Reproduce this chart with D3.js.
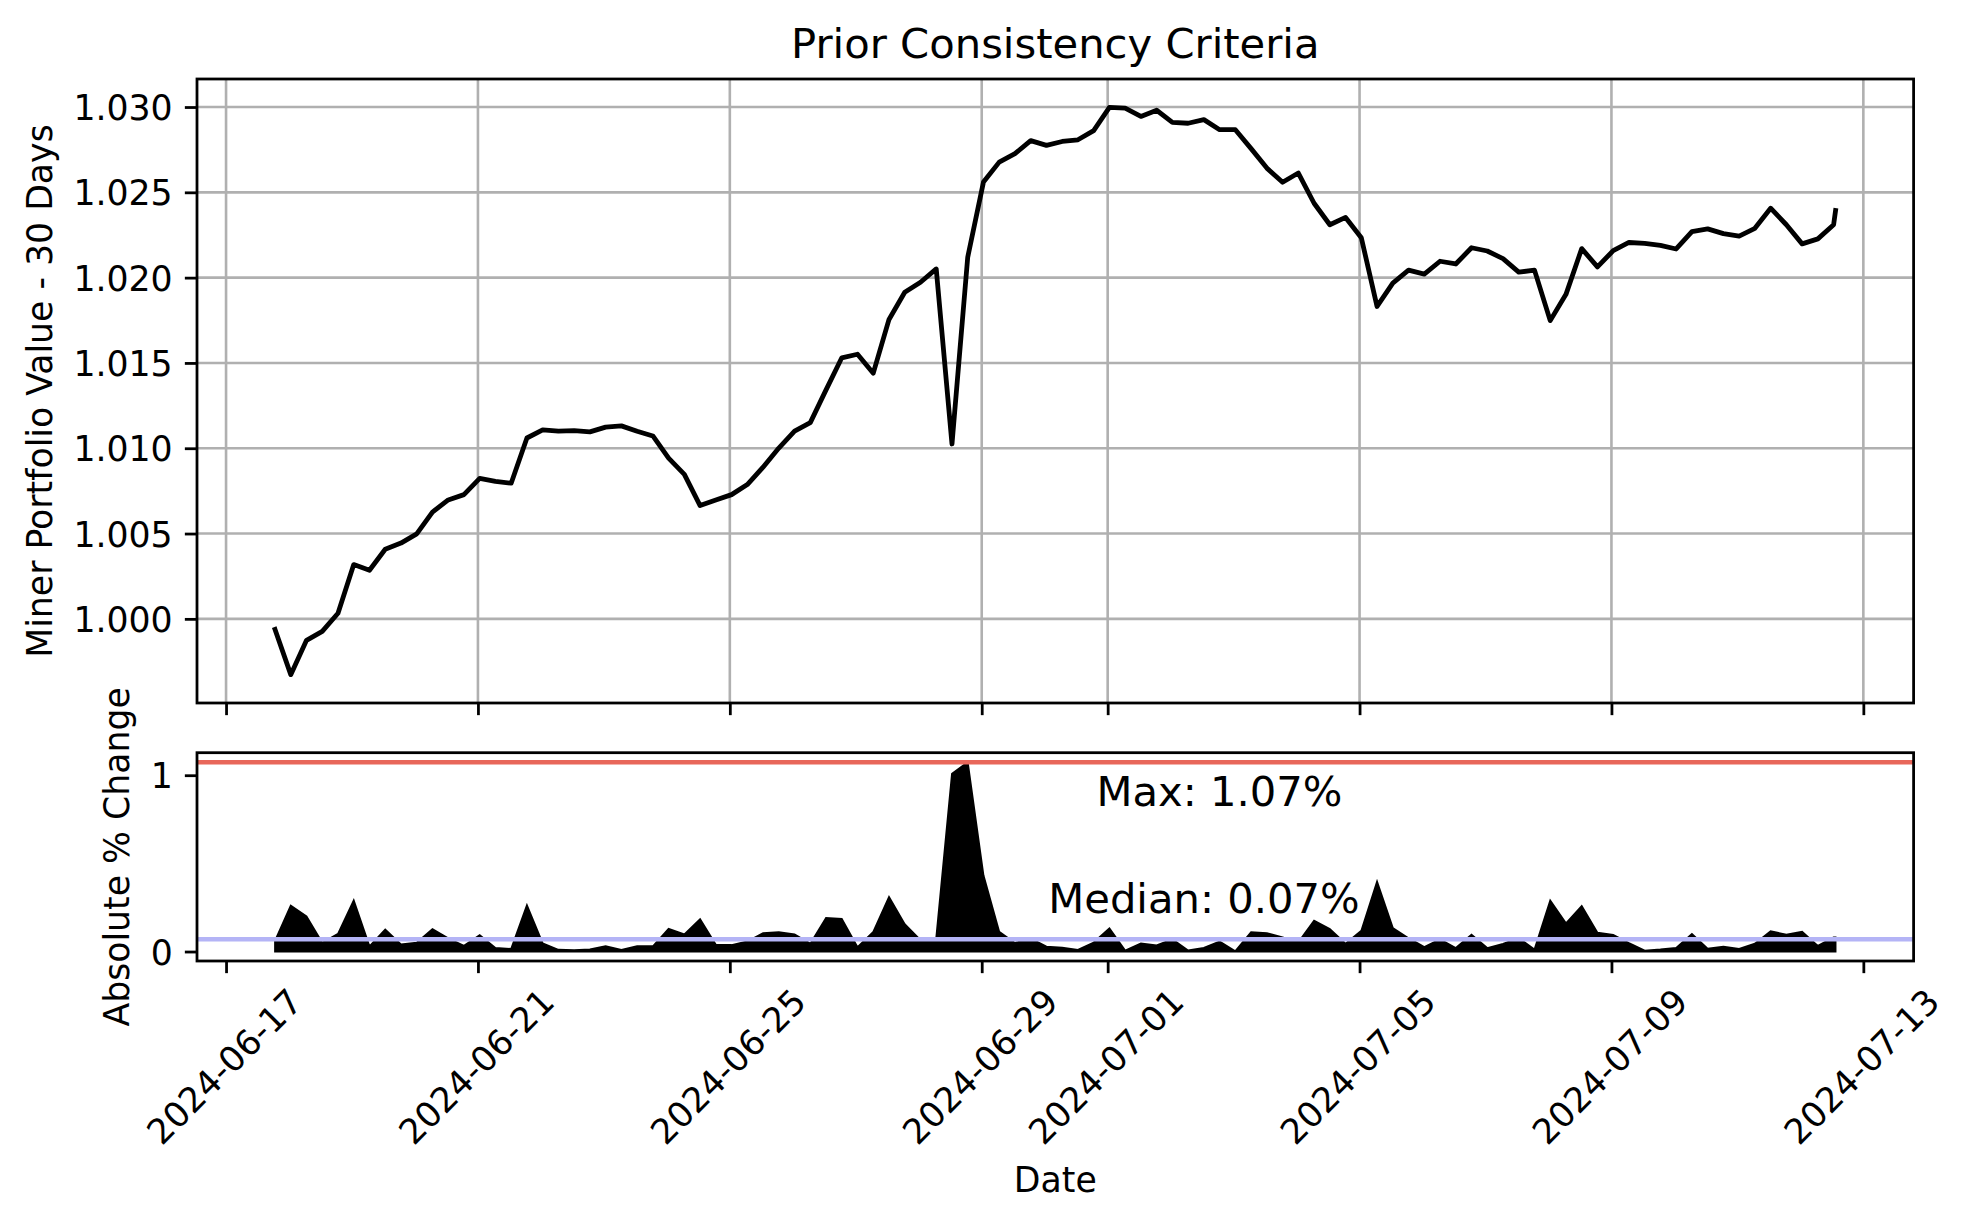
<!DOCTYPE html>
<html>
<head>
<meta charset="utf-8">
<script src="https://cdn.jsdelivr.net/npm/d3@7"></script>
<style>
  html, body { margin: 0; padding: 0; background: #ffffff; }
  svg { display: block; font-family: "DejaVu Sans", sans-serif; }
</style>
</head>
<body>
<svg id="chart" width="1970" height="1225"></svg>
<script>
// ---------------- DATA ----------------
const timestamps = [
  "2024-06-17 18:40",
  "2024-06-18 00:40","2024-06-18 06:40","2024-06-18 12:40","2024-06-18 18:40",
  "2024-06-19 00:40","2024-06-19 06:40","2024-06-19 12:40","2024-06-19 18:40",
  "2024-06-20 00:40","2024-06-20 06:40","2024-06-20 12:40","2024-06-20 18:40",
  "2024-06-21 00:40","2024-06-21 06:40","2024-06-21 12:40","2024-06-21 18:40",
  "2024-06-22 00:40","2024-06-22 06:40","2024-06-22 12:40","2024-06-22 18:40",
  "2024-06-23 00:40","2024-06-23 06:40","2024-06-23 12:40","2024-06-23 18:40",
  "2024-06-24 00:40","2024-06-24 06:40","2024-06-24 12:40","2024-06-24 18:40",
  "2024-06-25 00:40","2024-06-25 06:40","2024-06-25 12:40","2024-06-25 18:40",
  "2024-06-26 00:40","2024-06-26 06:40","2024-06-26 12:40","2024-06-26 18:40",
  "2024-06-27 00:40","2024-06-27 06:40","2024-06-27 12:40","2024-06-27 18:40",
  "2024-06-28 00:40","2024-06-28 06:40","2024-06-28 12:40","2024-06-28 18:40",
  "2024-06-29 00:40","2024-06-29 06:40","2024-06-29 12:40","2024-06-29 18:40",
  "2024-06-30 00:40","2024-06-30 06:40","2024-06-30 12:40","2024-06-30 18:40",
  "2024-07-01 00:40","2024-07-01 06:40","2024-07-01 12:40","2024-07-01 18:40",
  "2024-07-02 00:40","2024-07-02 06:40","2024-07-02 12:40","2024-07-02 18:40",
  "2024-07-03 00:40","2024-07-03 06:40","2024-07-03 12:40","2024-07-03 18:40",
  "2024-07-04 00:40","2024-07-04 06:40","2024-07-04 12:40","2024-07-04 18:40",
  "2024-07-05 00:40","2024-07-05 06:40","2024-07-05 12:40","2024-07-05 18:40",
  "2024-07-06 00:40","2024-07-06 06:40","2024-07-06 12:40","2024-07-06 18:40",
  "2024-07-07 00:40","2024-07-07 06:40","2024-07-07 12:40","2024-07-07 18:40",
  "2024-07-08 00:40","2024-07-08 06:40","2024-07-08 12:40","2024-07-08 18:40",
  "2024-07-09 00:40","2024-07-09 06:40","2024-07-09 12:40","2024-07-09 18:40",
  "2024-07-10 00:40","2024-07-10 06:40","2024-07-10 12:40","2024-07-10 18:40",
  "2024-07-11 00:40","2024-07-11 06:40","2024-07-11 12:40","2024-07-11 18:40",
  "2024-07-12 00:40","2024-07-12 06:40","2024-07-12 12:40","2024-07-12 13:25"
];

const portfolioValues = [
  0.99938,
  0.99673, 0.99874, 0.99927, 1.00033,
  1.00318, 1.00285, 1.00408, 1.00444,
  1.00498, 1.00626, 1.00697, 1.00728,
  1.00823, 1.00806, 1.00795, 1.01060,
  1.01108, 1.01100, 1.01103, 1.01096,
  1.01124, 1.01131, 1.01100, 1.01072,
  1.00942, 1.00847, 1.00664, 1.00697,
  1.00728, 1.00787, 1.00889, 1.01001,
  1.01100, 1.01150, 1.01342, 1.01530,
  1.01551, 1.01440, 1.01755, 1.01914,
  1.01973, 1.02051, 1.01025, 1.02120,
  1.02561, 1.02677, 1.02727, 1.02803,
  1.02775, 1.02798, 1.02808, 1.02862,
  1.02998, 1.02993, 1.02945, 1.02981,
  1.02910, 1.02905, 1.02926, 1.02867,
  1.02867, 1.02756, 1.02642, 1.02559,
  1.02613, 1.02436, 1.02310, 1.02353,
  1.02234, 1.01831, 1.01968, 1.02044,
  1.02021, 1.02096, 1.02080, 1.02175,
  1.02156, 1.02111, 1.02032, 1.02044,
  1.01748, 1.01902, 1.02170, 1.02063,
  1.02158, 1.02206, 1.02201, 1.02189,
  1.02168, 1.02270, 1.02286, 1.02258,
  1.02243, 1.02289, 1.02407, 1.02310,
  1.02198, 1.02227, 1.02310, 1.02393
];

const absPctChange = [
  0.060,
  0.260, 0.200, 0.050, 0.100,
  0.290, 0.030, 0.125, 0.040,
  0.050, 0.127, 0.075, 0.033,
  0.093, 0.020, 0.015, 0.263,
  0.047, 0.010, 0.008, 0.012,
  0.030, 0.010, 0.030, 0.030,
  0.129, 0.097, 0.184, 0.038,
  0.037, 0.057, 0.104, 0.110,
  0.097, 0.045, 0.190, 0.185,
  0.025, 0.112, 0.310, 0.155,
  0.065, 0.077, 1.008, 1.074,
  0.432, 0.112, 0.049, 0.074,
  0.028, 0.022, 0.010, 0.051,
  0.131, 0.006, 0.046, 0.035,
  0.069, 0.006, 0.021, 0.057,
  0.002, 0.110, 0.105, 0.080,
  0.053, 0.175, 0.128, 0.045,
  0.118, 0.397, 0.134, 0.076,
  0.025, 0.070, 0.020, 0.095,
  0.020, 0.044, 0.077, 0.012,
  0.290, 0.160, 0.258, 0.107,
  0.095, 0.048, 0.005, 0.012,
  0.021, 0.100, 0.016, 0.027,
  0.015, 0.045, 0.115, 0.096,
  0.112, 0.032, 0.080, 0.080
];

const xTickLabels = ["2024-06-17","2024-06-21","2024-06-25","2024-06-29",
                     "2024-07-01","2024-07-05","2024-07-09","2024-07-13"];
const yTicksTop = [1.000, 1.005, 1.010, 1.015, 1.020, 1.025, 1.030];
const yTicksBottom = [0, 1];

const titleText = "Prior Consistency Criteria";
const yLabelTop = "Miner Portfolio Value - 30 Days";
const yLabelBottom = "Absolute % Change";
const xLabelText = "Date";

// ---------------- LAYOUT ----------------
const axL = 197, axR = 1913.6;
const top1 = 79, bot1 = 703;
const top2 = 752.7, bot2 = 961;
const tickLen = 12.15, tickPad = 12.15, spineW = 2.78;
const fs = 34.7, fsBig = 41.7;

const parseT = d3.utcParse("%Y-%m-%d %H:%M");
const parseD = d3.utcParse("%Y-%m-%d");
const dates = timestamps.map(parseT);
const tickDates = xTickLabels.map(parseD);

const topData = dates.map((d, i) => ({ date: d, v: portfolioValues[i] }));
const bottomData = dates.map((d, i) => ({ date: d, v: absPctChange[i] }));

const tMin = d3.min(dates), tMax = d3.max(dates);
const tPad = (tMax - tMin) * 0.05;
const x = d3.scaleUtc()
  .domain([new Date(+tMin - tPad), new Date(+tMax + tPad)])
  .range([axL, axR]);

const [vMin, vMax] = d3.extent(portfolioValues);
const vPad = (vMax - vMin) * 0.05;
const yTop = d3.scaleLinear().domain([vMin - vPad, vMax + vPad]).range([bot1, top1]);

const maxChange = d3.max(absPctChange);
const medianChange = d3.median(absPctChange);
const cPad = (maxChange - 0) * 0.05;
const yBot = d3.scaleLinear().domain([0 - cPad, maxChange + cPad]).range([bot2, top2]);

const svg = d3.select("#chart");
svg.append("rect").attr("width", 1970).attr("height", 1225).attr("fill", "#ffffff");

// ---------------- TOP PANEL ----------------
const gTop = svg.append("g");

gTop.append("g").selectAll("line").data(tickDates).join("line")
  .attr("x1", d => x(d)).attr("x2", d => x(d))
  .attr("y1", top1).attr("y2", bot1)
  .attr("stroke", "#b0b0b0").attr("stroke-width", 2.6);
gTop.append("g").selectAll("line").data(yTicksTop).join("line")
  .attr("x1", axL).attr("x2", axR)
  .attr("y1", d => yTop(d)).attr("y2", d => yTop(d))
  .attr("stroke", "#b0b0b0").attr("stroke-width", 2.6);

gTop.append("path").datum(topData)
  .attr("d", d3.line().x(d => x(d.date)).y(d => yTop(d.v)))
  .attr("fill", "none").attr("stroke", "#000000")
  .attr("stroke-width", 4.8).attr("stroke-linejoin", "round").attr("stroke-linecap", "square");

const yAxTop = gTop.append("g").attr("transform", `translate(${axL},0)`)
  .call(d3.axisLeft(yTop).tickValues(yTicksTop).tickFormat(d3.format(".3f"))
    .tickSize(tickLen).tickPadding(tickPad));
const xAxTop = gTop.append("g").attr("transform", `translate(0,${bot1})`)
  .call(d3.axisBottom(x).tickValues(tickDates).tickFormat(() => "")
    .tickSize(tickLen));

gTop.append("rect").attr("x", axL).attr("y", top1)
  .attr("width", axR - axL).attr("height", bot1 - top1)
  .attr("fill", "none").attr("stroke", "#000").attr("stroke-width", spineW);

// ---------------- BOTTOM PANEL ----------------
const gBot = svg.append("g");

gBot.append("path").datum(bottomData)
  .attr("d", d3.area().x(d => x(d.date)).y0(yBot(0)).y1(d => yBot(d.v)))
  .attr("fill", "#000000").attr("stroke", "#000000").attr("stroke-width", 1.8)
  .attr("stroke-linejoin", "miter");

gBot.append("line")
  .attr("x1", axL).attr("x2", axR)
  .attr("y1", yBot(maxChange)).attr("y2", yBot(maxChange))
  .attr("stroke", "#e8675a").attr("stroke-width", 4.5);
gBot.append("line")
  .attr("x1", axL).attr("x2", axR)
  .attr("y1", yBot(medianChange)).attr("y2", yBot(medianChange))
  .attr("stroke", "#b4b4f6").attr("stroke-width", 4.5);

gBot.append("text")
  .attr("x", 1096.5).attr("y", 806)
  .attr("font-size", fsBig).attr("fill", "#000")
  .text(`Max: ${maxChange.toFixed(2)}%`);
gBot.append("text")
  .attr("x", 1048.3).attr("y", 912.7)
  .attr("font-size", fsBig).attr("fill", "#000")
  .text(`Median: ${medianChange.toFixed(2)}%`);

const yAxBot = gBot.append("g").attr("transform", `translate(${axL},0)`)
  .call(d3.axisLeft(yBot).tickValues(yTicksBottom).tickFormat(d3.format("d"))
    .tickSize(tickLen).tickPadding(tickPad));

const fmtDate = d3.utcFormat("%Y-%m-%d");
const xAxBot = gBot.append("g").attr("transform", `translate(0,${bot2})`)
  .call(d3.axisBottom(x).tickValues(tickDates).tickFormat(fmtDate)
    .tickSize(tickLen).tickPadding(tickPad));

gBot.append("rect").attr("x", axL).attr("y", top2)
  .attr("width", axR - axL).attr("height", bot2 - top2)
  .attr("fill", "none").attr("stroke", "#000").attr("stroke-width", spineW);

// ---------------- AXIS STYLING ----------------
[yAxTop, xAxTop, yAxBot, xAxBot].forEach(g => {
  g.select(".domain").remove();
  g.selectAll(".tick line").attr("stroke", "#000").attr("stroke-width", spineW);
  g.selectAll(".tick text").attr("fill", "#000")
    .attr("font-size", fs).attr("font-family", "DejaVu Sans");
});
[yAxTop, yAxBot].forEach(g => {
  g.selectAll(".tick text").attr("dy", "0.36em").attr("x", -(tickLen + tickPad));
});
// rotated date labels: rotation 45, rotated bounding box centred under the tick
const asc = 0.76 * fs, desc = 0.227 * fs, c45 = Math.SQRT1_2;
xAxBot.selectAll(".tick text")
  .attr("y", null).attr("dy", null).attr("x", null)
  .attr("text-anchor", "end")
  .each(function () {
    const w = this.getComputedTextLength();
    const ox = c45 * (w + asc - desc) / 2;
    const oy = tickLen + tickPad + c45 * asc;
    d3.select(this).attr("transform", `translate(${ox},${oy}) rotate(-45)`);
  });

// ---------------- TITLES / LABELS ----------------
svg.append("text")
  .attr("x", (axL + axR) / 2).attr("y", 58.2)
  .attr("text-anchor", "middle").attr("font-size", fsBig).attr("fill", "#000")
  .text(titleText);

svg.append("text")
  .attr("transform", `translate(51.7,${(top1 + bot1) / 2}) rotate(-90)`)
  .attr("text-anchor", "middle").attr("font-size", fs).attr("fill", "#000")
  .text(yLabelTop);

svg.append("text")
  .attr("transform", `translate(128.9,${(top2 + bot2) / 2}) rotate(-90)`)
  .attr("text-anchor", "middle").attr("font-size", fs).attr("fill", "#000")
  .text(yLabelBottom);

svg.append("text")
  .attr("x", (axL + axR) / 2).attr("y", 1192.3)
  .attr("text-anchor", "middle").attr("font-size", fs).attr("fill", "#000")
  .text(xLabelText);
</script>
</body>
</html>
